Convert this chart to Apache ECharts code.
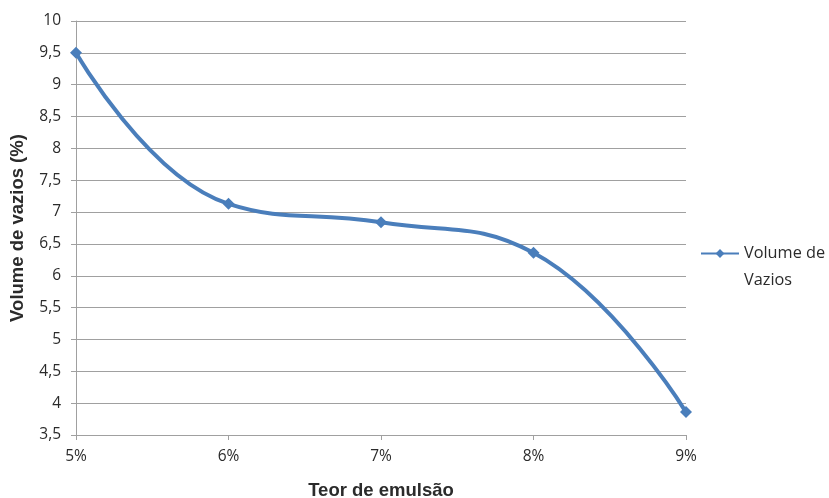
<!DOCTYPE html>
<html>
<head>
<meta charset="utf-8">
<script src="https://cdn.jsdelivr.net/npm/echarts@6/dist/echarts.min.js"></script>
<style>
  html, body { margin: 0; padding: 0; background: #ffffff; }
  #chart { width: 829px; height: 498px; }
</style>
</head>
<body>
<div id="chart"></div>
<script>
// Emulsion content (x) and resulting void volume (y)
const categories = ['5%', '6%', '7%', '8%', '9%'];
const volumeVazios = [9.5, 7.13, 6.84, 6.36, 3.86];
const seriesName = 'Volume de Vazios';

const FONT = '"Open Sans", "Liberation Sans", sans-serif';
const TITLE_FONT = '"Liberation Sans", Arial, sans-serif';
const TXT = '#2b2b2b';
const GRID_C = '#a0a0a0';
const LINE_C = '#4a7ebb';

const chart = echarts.init(document.getElementById('chart'), null, { renderer: 'canvas' });
chart.setOption({
  backgroundColor: '#ffffff',
  animation: false,
  grid: { left: 76, right: 143, top: 21, bottom: 63, containLabel: false, outerBoundsMode: 'none' },
  legend: {
    left: 700,
    top: 213,
    padding: 0,
    orient: 'vertical',
    itemWidth: 38,
    itemHeight: 11,
    itemGap: 0,
    // leading blank line keeps the first text line level with the icon
    formatter: () => ' \nVolume de\nVazios',
    textStyle: { fontFamily: FONT, fontSize: 16.3, color: TXT, lineHeight: 27 },
    data: [seriesName]
  },
  xAxis: {
    type: 'category',
    data: categories,
    boundaryGap: false,
    name: 'Teor de emulsão',
    nameLocation: 'middle',
    nameGap: 46,
    nameTextStyle: { fontFamily: TITLE_FONT, fontSize: 18.5, fontWeight: 'bold', color: TXT },
    axisLine: { lineStyle: { color: GRID_C, width: 1 } },
    axisTick: { show: true, length: 5, alignWithLabel: true, lineStyle: { color: GRID_C } },
    axisLabel: { fontFamily: FONT, fontSize: 15.5, color: TXT, margin: 14 },
    splitLine: { show: false }
  },
  yAxis: {
    type: 'value',
    min: 3.5,
    max: 10,
    interval: 0.5,
    name: 'Volume de vazios (%)',
    nameLocation: 'middle',
    nameGap: 49,
    nameRotate: 90,
    nameTextStyle: { fontFamily: TITLE_FONT, fontSize: 18.5, fontWeight: 'bold', color: TXT },
    axisLine: { show: true, lineStyle: { color: GRID_C, width: 1 } },
    axisTick: { show: true, length: 5, lineStyle: { color: GRID_C } },
    axisLabel: {
      fontFamily: FONT, fontSize: 15.5, color: TXT, margin: 15,
      formatter: v => String(v).replace('.', ',')
    },
    splitLine: { show: true, lineStyle: { color: GRID_C, width: 1 } }
  },
  series: [{
    name: seriesName,
    type: 'line',
    data: volumeVazios,
    smooth: 0.45,
    symbol: 'diamond',
    symbolSize: 12,
    color: LINE_C,
    lineStyle: { width: 4, color: LINE_C },
    itemStyle: { color: LINE_C }
  }]
});
</script>
</body>
</html>
